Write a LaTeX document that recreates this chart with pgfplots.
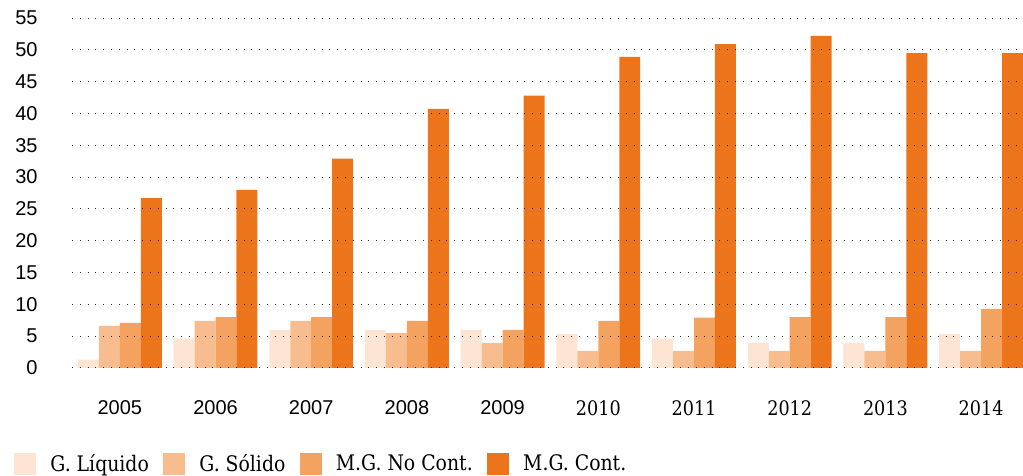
\documentclass[border=0pt]{standalone}
\usepackage{fontspec}
\setmainfont{DejaVu Serif}[FakeStretch=0.88]
\newfontfamily\sansf{Liberation Sans}
\usepackage{pgfplots}
\pgfplotsset{compat=1.18}
\definecolor{cA}{RGB}{253,228,211}
\definecolor{cB}{RGB}{248,189,142}
\definecolor{cC}{RGB}{244,162,95}
\definecolor{cD}{RGB}{236,116,27}
\begin{document}
\begin{tikzpicture}
\begin{axis}[
  scale only axis, width=475.5pt, height=175pt,
  ybar=0pt, bar width=0.219,
  xmin=-0.5, xmax=9.438, ymin=0, ymax=55,
  enlargelimits=false,
  axis on top,
  axis line style={draw=none},
  major tick length=0pt,
  xtick={0,...,9},
  xticklabels={{\sansf 2005},{\sansf 2006},{\sansf 2007},{\sansf 2008},{\sansf 2009},2010,2011,2012,2013,2014},
  ytick={0,5,...,55},
  yticklabels={0,5,10,15,20,25,30,35,40,45,50,55},
  yticklabel style={font=\sansf\fontsize{10}{12}\selectfont, anchor=east, xshift=-13.7pt},
  xticklabel style={font=\fontsize{10}{12}\selectfont, anchor=north, yshift=-12.7pt},
  ymajorgrids,
  major grid style={dash pattern=on 0.5pt off 3.4pt, line width=0.5pt, black!85},
  legend columns=4,
  legend image code/.code={\fill[#1] (0pt,-5.5pt) rectangle (11pt,5.5pt);},
  legend style={at={(0,0)}, anchor=west, xshift=-29pt, yshift=-48pt,
    draw=none, inner sep=0pt, font=\fontsize{10.7}{12.5}\selectfont,
    nodes={inner sep=0pt},
    /tikz/column sep=0pt,
    /tikz/every odd column/.append style={column sep=7pt},
    /tikz/every even column/.append style={column sep=7.25pt}},
]
\coordinate (bl) at (rel axis cs:0,0);
\coordinate (tr) at (rel axis cs:1,1);
\addplot[fill=cA, draw=none] coordinates {(0,1.3) (1,4.6) (2,6.0) (3,6.0) (4,6.0) (5,5.35) (6,4.6) (7,3.9) (8,3.9) (9,5.35)};
\addplot[fill=cB, draw=none] coordinates {(0,6.6) (1,7.4) (2,7.4) (3,5.5) (4,3.9) (5,2.7) (6,2.7) (7,2.7) (8,2.7) (9,2.7)};
\addplot[fill=cC, draw=none] coordinates {(0,7.1) (1,8.0) (2,8.0) (3,7.4) (4,6.0) (5,7.4) (6,7.9) (7,8.0) (8,8.0) (9,9.3)};
\addplot[fill=cD, draw=none] coordinates {(0,26.7) (1,28.0) (2,32.9) (3,40.7) (4,42.8) (5,48.9) (6,50.9) (7,52.2) (8,49.5) (9,49.5)};
\legend{G. Líquido, G. Sólido, M.G. No Cont., M.G. Cont.}
\end{axis}
\pgfresetboundingbox
\path ([shift={(-36pt,-54pt)}]bl) rectangle ([shift={(0pt,9pt)}]tr);
\end{tikzpicture}
\end{document}
